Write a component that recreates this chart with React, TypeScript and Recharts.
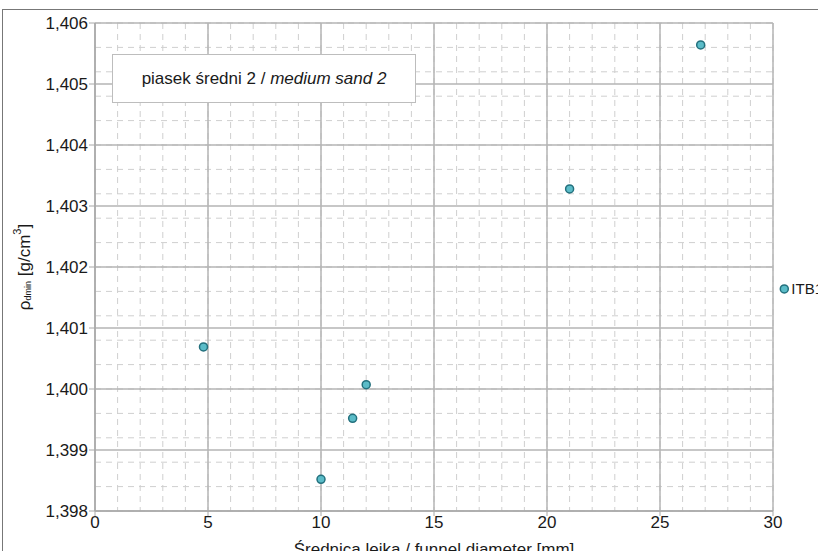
import React from 'react';
import {
  ScatterChart,
  Scatter,
  XAxis,
  YAxis,
  CartesianGrid,
  ReferenceDot,
  Label,
} from 'recharts';

// funnel diameter [mm]
const diameters = [4.8, 10.0, 11.4, 12.0, 21.0, 26.8];
// rho dmin [g/cm3]
const densities = [1.40069, 1.39852, 1.39952, 1.40007, 1.40328, 1.40564];

const refName = 'ITB1';
const refDiameter = 30.5;
const refDensity = 1.40164;

const xTicks = [0, 5, 10, 15, 20, 25, 30];
const yTicks = [1.398, 1.399, 1.4, 1.401, 1.402, 1.403, 1.404, 1.405, 1.406];
const xMinorTicks = Array.from({ length: 31 }, (_, i) => i);
const yMinorTicks = Array.from({ length: 41 }, (_, i) => +(1.398 + i * 0.0002).toFixed(4));

const points = diameters.map((d, i) => ({ x: d, y: densities[i] }));

const FONT = '"Liberation Sans", Arial, sans-serif';
const fmtY = (v: number) => v.toFixed(3).replace('.', ',');

const YTitle = (props: any) => {
  const vb = props.viewBox || { x: 0, y: 0, width: 0, height: 0 };
  const cx = vb.x + 24;
  const cy = vb.y + vb.height / 2;
  return (
    <text
      x={cx}
      y={cy}
      transform={`rotate(-90, ${cx}, ${cy})`}
      textAnchor="middle"
      dominantBaseline="central"
      fontFamily={FONT}
      fontSize={17}
      fill="#1a1a1a"
    >
      ρ
      <tspan fontSize={9} dy={4}>dmin</tspan>
      <tspan dy={-4}> [g/cm</tspan>
      <tspan fontSize={11} dy={-7}>3</tspan>
      <tspan dy={7}>]</tspan>
    </text>
  );
};

const App: React.FC = () => {
  return (
    <div
      style={{
        position: 'absolute',
        left: 0,
        top: 0,
        width: 818,
        height: 551,
        background: '#fff',
        overflow: 'hidden',
        fontFamily: FONT,
      }}
    >
      <div
        style={{
          position: 'absolute',
          left: 2,
          top: 9,
          width: 830,
          height: 600,
          borderTop: '1.5px solid #777',
          borderLeft: '1.5px solid #777',
        }}
      />
      <ScatterChart
        width={818}
        height={551}
        margin={{ top: 23, right: 45, left: 0, bottom: 0 }}
        style={{ position: 'absolute', left: 0, top: 0 }}
      >
        <XAxis xAxisId="minor" type="number" dataKey="x" domain={[0, 30]} ticks={xMinorTicks} hide allowDataOverflow />
        <YAxis yAxisId="minor" type="number" dataKey="y" domain={[1.398, 1.406]} ticks={yMinorTicks} hide allowDataOverflow />
        <CartesianGrid
          xAxisId="minor"
          yAxisId="minor"
          stroke="#cfcfcf"
          strokeDasharray="6 5"
          strokeWidth={1}
        />
        <XAxis
          type="number"
          dataKey="x"
          domain={[0, 30]}
          ticks={xTicks}
          allowDataOverflow
          height={40}
          axisLine={{ stroke: '#a8a8a8', strokeWidth: 1.5 }}
          tickLine={{ stroke: '#a8a8a8' }}
          tickSize={5}
          tickMargin={0}
          tick={{ fill: '#1a1a1a', fontSize: 17, fontFamily: FONT }}
        >
          <Label
            value="Średnica lejka / funnel diameter [mm]"
            position="insideBottom"
            offset={-4}
            style={{ fill: '#1a1a1a', fontSize: 17, fontFamily: FONT }}
          />
        </XAxis>
        <YAxis
          type="number"
          dataKey="y"
          domain={[1.398, 1.406]}
          ticks={yTicks}
          allowDataOverflow
          width={95}
          axisLine={{ stroke: '#a8a8a8', strokeWidth: 1.5 }}
          tickLine={{ stroke: '#a8a8a8' }}
          tickSize={6}
          tickMargin={1}
          tickFormatter={fmtY}
          tick={{ fill: '#1a1a1a', fontSize: 17, fontFamily: FONT }}
          label={<YTitle />}
        />
        <CartesianGrid stroke="#b4b4b4" strokeWidth={1.5} />
        <Scatter
          data={points}
          isAnimationActive={false}
          fill="#5bbcc8"
          stroke="#23707d"
          strokeWidth={1.5}
          shape={(p: any) => (
            <circle cx={p.cx} cy={p.cy} r={4} fill="#5bbcc8" stroke="#23707d" strokeWidth={1.5} />
          )}
        />
        <ReferenceDot
          x={refDiameter}
          y={refDensity}
          r={4}
          fill="#5bbcc8"
          stroke="#23707d"
          strokeWidth={1.5}
          ifOverflow="visible"
        >
          <Label
            value={refName}
            position="right"
            offset={3}
            style={{ fill: '#1a1a1a', fontSize: 15, fontFamily: FONT }}
          />
        </ReferenceDot>
      </ScatterChart>
      <div
        style={{
          position: 'absolute',
          left: 112,
          top: 54,
          width: 304,
          height: 49,
          background: '#fff',
          border: '1px solid #bdbdbd',
          boxSizing: 'border-box',
          display: 'flex',
          alignItems: 'center',
          justifyContent: 'center',
          fontSize: 17,
          color: '#1a1a1a',
        }}
      >
        <span>
          piasek średni 2 / <i>medium sand 2</i>
        </span>
      </div>
    </div>
  );
};

export default App;
